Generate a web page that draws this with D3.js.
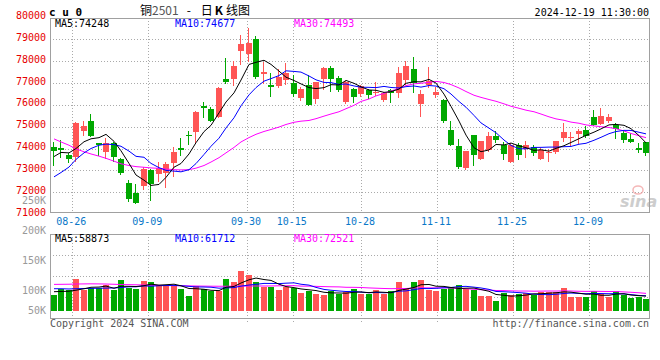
<!DOCTYPE html>
<html><head><meta charset="utf-8">
<script src="https://cdn.jsdelivr.net/npm/d3@7/dist/d3.min.js"></script>
<style>
html,body{margin:0;padding:0;background:#fff;}
svg{display:block;}
text{font-family:"DejaVu Sans Mono",monospace;}
</style></head><body>
<svg id="c" width="660" height="360"></svg>
<script>
// ---------- data ----------
const dates = ["08-21","08-22","08-23","08-26","08-27","08-28","08-29","08-30",
"09-02","09-03","09-04","09-05","09-06","09-09","09-10","09-11","09-12","09-13",
"09-18","09-19","09-20","09-23","09-24","09-25","09-26","09-27","09-30",
"10-08","10-09","10-10","10-11","10-14","10-15","10-16","10-17","10-18",
"10-21","10-22","10-23","10-24","10-25","10-28","10-29","10-30","10-31",
"11-01","11-04","11-05","11-06","11-07","11-08","11-11","11-12","11-13","11-14","11-15",
"11-18","11-19","11-20","11-21","11-22","11-25","11-26","11-27","11-28","11-29",
"12-02","12-03","12-04","12-05","12-06","12-09","12-10","12-11","12-12","12-13",
"12-16","12-17","12-18","12-19"];

const open = [74080,74030,73710,73630,74810,75270,74240,73820,74260,73530,
72430,71950,72290,73020,72850,72870,73330,74030,74640,74760,
75940,75830,75450,77170,77200,78450,78340,79000,77430,76920,
76840,77140,77000,76310,76920,76280,77180,77670,77240,76140,
76740,76490,76660,76600,76200,76680,76520,77120,77620,76050,
76920,76460,76200,74860,74120,73100,74630,73530,73940,74580,
74150,73400,74150,73980,74060,73530,73800,73820,74470,74500,
74660,74830,75450,75130,75240,75090,74720,74440,74030,74280];
const high = [74300,74400,73800,75220,75270,75590,74270,74470,74280,73560,
72550,72360,73170,73070,73370,73360,74050,74470,74810,75700,
76140,75910,76800,78160,78000,79210,79520,79150,77980,77440,
77660,77910,77380,76830,77380,77050,77730,77790,77300,77070,
76760,76920,76720,77060,76570,76720,77710,78000,78200,76690,
77750,76830,76280,75240,74440,73890,74630,74350,74750,74780,
74280,74240,74240,74350,74140,74020,73980,74350,75190,74750,
74900,75010,75770,75850,75590,75190,74800,74730,74260,74320];
const low = [73250,73590,73400,73450,74630,74560,73710,73560,73430,72820,
71600,71500,72150,71660,72490,72240,72720,73720,74210,74320,
75420,75240,75430,76980,76890,77870,78020,77250,77000,76420,
76820,76970,76420,76200,75970,76090,76740,76620,76640,76090,
76110,76420,76320,76430,76190,76110,76340,76970,76580,75510,
76830,76340,75210,74170,73100,73050,73250,73500,73890,74290,
73540,73380,73510,73630,73680,73500,73430,73790,74340,74170,
74240,74520,75060,75100,75210,74480,74310,74280,73860,73720];
const close = [73900,73910,73500,75190,75040,74580,74170,74260,73590,72870,
71690,71520,73070,72390,73100,73310,73850,73920,74570,75680,
75850,75280,76780,77060,77770,78790,78850,77270,77520,76830,
77260,77450,76510,76740,75990,77030,77670,77180,76680,77030,
76370,76860,76460,76610,76550,76530,77460,77780,76980,76510,
77100,76610,75250,74180,73140,73890,73710,74350,74580,74400,
73770,74150,73710,74150,73790,73910,73830,74350,74760,74530,
74780,74580,75090,75510,75450,74890,74370,74320,73920,73790];
const volume = [63400,90100,83600,128100,83600,94100,94100,103800,83600,124000,
92900,90100,120000,115900,103800,101000,101000,87700,60600,99800,
90100,80800,80800,128100,115900,160400,145400,115900,98200,98200,
83600,98200,94100,71500,80800,68700,63400,82000,68700,76800,
87700,68700,68700,83600,68700,79600,115900,94100,117200,124000,
84800,80800,90100,95700,103800,90100,83600,60600,60600,39200,
73900,65900,68700,73900,63400,76800,76800,76800,92900,56600,
56600,56600,79600,68700,56600,80800,63400,52500,56600,47300];

// moving-average values before a full window exists
const ma5Head  = [73630,73820,73800,74000];
const ma10Head = [72700,72900,73150,73500,73800,74000,74150,74200,74180];
const ma30Head = [74440,74300,74150,73980,73850,73750,73650,73550,73420,73300,
73220,73170,73140,73110,73090,73060,73030,73020,73030,73100,73220,73380,73580,
73800,74050,74300,74500,74650,74780];
const vma5Head  = [78000,79000,80000,84000];
const vma10Head = [90000,90000,89000,90000,91000,91500,92000,92500,93000];
const vma30Head = [107500,107800,108200,109000,109500,109800,109500,109000,108000,
107000,106500,106000,105000,104000,103500,103000,102500,102000,101500,101000,
100500,100200,100000,100000,100200,100500,100800,101000,101000];

const tickDates = ["08-26","09-09","09-30","10-15","10-28","11-11","11-25","12-09"];
const priceTicks = [80000,79000,78000,77000,76000,75000,74000,73000,72000,71000];
const volTickValues = [250000,200000,150000,100000,50000];
const volTickLabels = ["250K","200K","150K","100K","50K"];
const priceMaText = ["MA5:74248","MA10:74677","MA30:74493"];
const volMaText = ["MA5:58873","MA10:61712","MA30:72521"];
const maColors = ["#000000","#0000ff","#ff00ff"];

// ---------- helpers ----------
function movingAvg(series, n, head){
  return series.map((v,i)=>{
    if(i < n-1) return head[i];
    return d3.mean(series.slice(i-n+1, i+1));
  });
}

const svg = d3.select("#c");
const P = {l:50, r:650, t:18, b:213};
const V = {t:234, b:318, base:311};

const x  = d3.scaleBand().domain(dates).range([P.l, P.r]);
const xg = d3.scaleBand().domain(dates).range([49.5, 657.5]);
const y  = d3.scaleLinear().domain([71000,80000]).range([214,17.5]);
const yv = d3.scaleLinear().domain([0,310000]).range([V.base, 234.3]);
const yvLab = d3.scaleLinear().domain([100000,250000]).range([290.3,200.3]);

const up = "#ff5555", dn = "#00a800";
const gridC = "#aaaaaa", borderC = "#a0a0a0";
const idx = d3.range(dates.length);
const bx = i => Math.round(x(dates[i]) + 0.75);
const cx = i => bx(i) + 3;

// ---------- grids ----------
const grid = svg.append("g").attr("stroke",gridC).attr("stroke-dasharray","1,2")
  .attr("shape-rendering","crispEdges");
grid.selectAll(".hp").data(priceTicks.filter(p=>p<80000 && p>71000)).join("line")
  .attr("x1",P.l).attr("x2",P.r)
  .attr("y1",p=>Math.round(y(p))+0.5).attr("y2",p=>Math.round(y(p))+0.5);
grid.selectAll(".vp").data(tickDates).join("line")
  .attr("x1",d=>Math.round(xg(d))+0.5).attr("x2",d=>Math.round(xg(d))+0.5)
  .attr("y1",P.t).attr("y2",P.b);
grid.selectAll(".vv").data(tickDates).join("line")
  .attr("x1",d=>Math.round(xg(d))+0.5).attr("x2",d=>Math.round(xg(d))+0.5)
  .attr("y1",V.t).attr("y2",V.b+4);
grid.selectAll(".hv").data([1,2,3]).join("line")
  .attr("x1",P.l).attr("x2",P.r)
  .attr("y1",k=>Math.round(V.t + k*(V.b-V.t)/4)+0.5)
  .attr("y2",k=>Math.round(V.t + k*(V.b-V.t)/4)+0.5);

// ---------- sina watermark ----------
const wm = svg.append("g").attr("opacity",0.75);
wm.append("ellipse").attr("cx",638).attr("cy",190).attr("rx",5).attr("ry",4)
  .attr("fill","none").attr("stroke","#f2a0a0").attr("stroke-width",1.5);
wm.append("text").attr("x",620).attr("y",207).attr("font-family","DejaVu Sans")
  .attr("font-style","italic").attr("font-weight","bold").attr("font-size",16)
  .attr("fill","#bdbdbd").style("font-family","DejaVu Sans").text("sina");

// ---------- candles ----------
const cg = svg.append("g").attr("shape-rendering","crispEdges");
cg.selectAll(".wick").data(idx).join("line")
  .attr("x1",i=>cx(i)-0.5).attr("x2",i=>cx(i)-0.5)
  .attr("y1",i=>Math.round(y(high[i]))).attr("y2",i=>Math.round(y(low[i]))+1)
  .attr("stroke",i=>close[i]>=open[i]?up:dn);
cg.selectAll(".body").data(idx).join("rect")
  .attr("x",i=>bx(i)).attr("width",6)
  .attr("y",i=>Math.round(y(Math.max(open[i],close[i]))))
  .attr("height",i=>Math.max(1, Math.round(y(Math.min(open[i],close[i]))) - Math.round(y(Math.max(open[i],close[i])))))
  .attr("fill",i=>close[i]>=open[i]?up:dn);

// ---------- price MAs ----------
const pMA = [movingAvg(close,5,ma5Head), movingAvg(close,10,ma10Head), movingAvg(close,30,ma30Head)];
const lineP = d3.line().x((v,i)=>cx(i)).y(v=>y(v));
svg.append("g").selectAll("path").data([pMA[2],pMA[1],pMA[0]]).join("path")
  .attr("d",lineP).attr("fill","none").attr("stroke-width",1)
  .attr("stroke",(d,k)=>maColors[2-k]);

// ---------- volume bars ----------
svg.append("g").attr("shape-rendering","crispEdges").selectAll("rect").data(idx).join("rect")
  .attr("x",i=>bx(i)).attr("width",6)
  .attr("y",i=>Math.round(yv(volume[i])))
  .attr("height",i=>V.base-Math.round(yv(volume[i])))
  .attr("fill",i=>close[i]>=open[i]?up:dn);

const vMA = [movingAvg(volume,5,vma5Head), movingAvg(volume,10,vma10Head), movingAvg(volume,30,vma30Head)];
const lineV = d3.line().x((v,i)=>cx(i)).y(v=>yv(v));
svg.append("g").selectAll("path").data([vMA[2],vMA[1],vMA[0]]).join("path")
  .attr("d",lineV).attr("fill","none").attr("stroke-width",1)
  .attr("stroke",(d,k)=>maColors[2-k]);

// ---------- borders ----------
const bd = svg.append("g").attr("fill","none").attr("stroke",borderC).attr("shape-rendering","crispEdges");
bd.append("rect").attr("x",50.5).attr("y",18.5).attr("width",599).attr("height",194);
bd.append("rect").attr("x",50.5).attr("y",234.5).attr("width",599).attr("height",84);

// ---------- texts ----------
svg.append("text").attr("x",49).attr("y",15.5).attr("font-size",11).attr("font-weight","bold")
  .attr("xml:space","preserve").text("c u 0");
const tt = svg.append("text").attr("x",140).attr("y",15).attr("font-size",12)
  .style("font-family","'Noto Sans CJK SC',sans-serif");
tt.append("tspan").text("铜");
tt.append("tspan").attr("fill","#555").text("2501");
tt.append("tspan").attr("dx",8).text("-");
tt.append("tspan").attr("dx",10).text("日");
tt.append("tspan").attr("dx",2).attr("font-weight","bold").text("K");
tt.append("tspan").attr("dx",3).text("线图");
svg.append("text").attr("x",649).attr("y",15.5).attr("font-size",10).attr("text-anchor","end")
  .text("2024-12-19 11:30:00");

svg.append("g").selectAll("text").data(priceTicks).join("text")
  .attr("x",46).attr("y",p=>y(p)+1.5).attr("text-anchor","end").attr("font-size",10)
  .attr("fill","#e60000").text(p=>p);

svg.append("g").selectAll("text").data(volTickValues).join("text")
  .attr("x",46).attr("y",v=>Math.min(yvLab(v),310.7)+3.6).attr("text-anchor","end").attr("font-size",10)
  .attr("fill","#999").text((v,k)=>volTickLabels[k]);

const maX = [55,175,294];
svg.append("g").selectAll("text").data(priceMaText).join("text")
  .attr("x",(d,k)=>maX[k]).attr("y",27).attr("font-size",10)
  .attr("fill",(d,k)=>maColors[k]).text(d=>d);
svg.append("g").selectAll("text").data(volMaText).join("text")
  .attr("x",(d,k)=>maX[k]).attr("y",241.5).attr("font-size",10)
  .attr("fill",(d,k)=>maColors[k]).text(d=>d);

svg.append("g").selectAll("text").data(tickDates).join("text")
  .attr("x",d=>xg(d)-1).attr("y",225.3).attr("text-anchor","middle").attr("font-size",10)
  .attr("fill","#0a78c8").text(d=>d);

svg.append("text").attr("x",50).attr("y",327).attr("font-size",10).attr("fill","#555")
  .text("Copyright 2024 SINA.COM");
svg.append("text").attr("x",649).attr("y",327).attr("font-size",10).attr("fill","#555")
  .attr("text-anchor","end").text("http://finance.sina.com.cn");
</script>
</body></html>
